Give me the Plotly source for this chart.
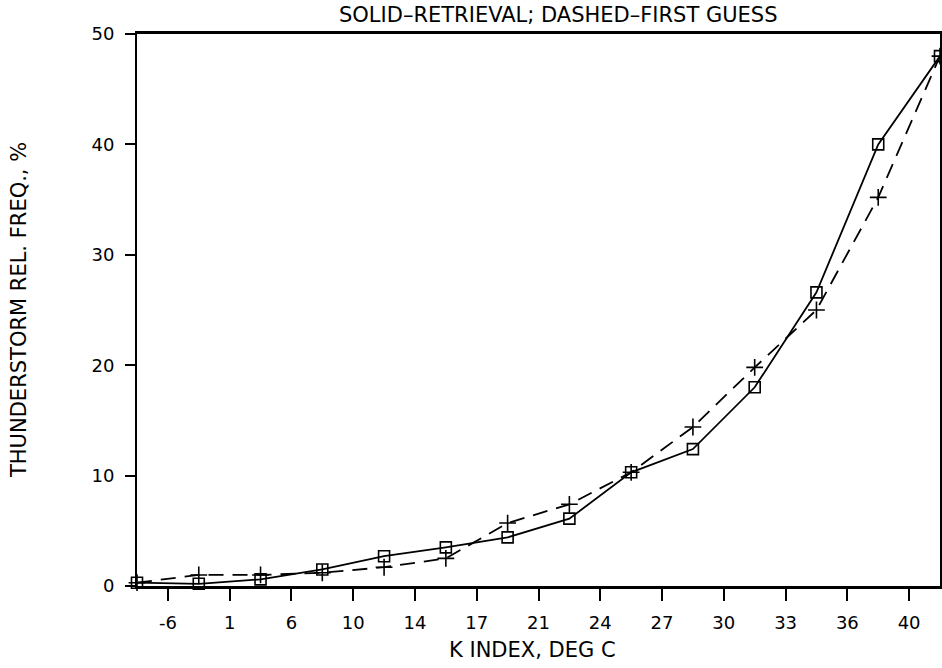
import plotly.graph_objects as go

# Data
k_labels = ["-6", "1", "6", "10", "14", "17", "21", "24", "27", "30", "33", "36", "40"]
point_pos = list(range(14))
retrieval = [0.3, 0.2, 0.6, 1.5, 2.7, 3.5, 4.4, 6.1, 10.3, 12.4, 18.0, 26.6, 40.0, 48.0]
first_guess = [0.3, 1.0, 1.0, 1.2, 1.7, 2.5, 5.7, 7.4, 10.3, 14.4, 19.8, 25.0, 35.2, 48.0]
tick_pos = [i + 0.5 for i in range(13)]
y_ticks = [0, 10, 20, 30, 40, 50]

FONT = "DejaVu Sans"
W, H = 942, 668
L, T = 137, 34
R = W - 940
B = H - 586
PW, PH = W - L - R, H - T - B


def px(xp):
    return (xp - L) / PW


def py(yp):
    return (H - B - yp) / PH


fig = go.Figure()
fig.add_trace(go.Scatter(
    x=point_pos, y=first_guess, mode="lines+markers",
    line=dict(color="black", width=1.8, dash="15px,9px"),
    marker=dict(symbol="cross-thin", size=12, line=dict(color="black", width=1.6)),
    cliponaxis=False, showlegend=False, name="First guess"))
fig.add_trace(go.Scatter(
    x=point_pos, y=retrieval, mode="lines+markers",
    line=dict(color="black", width=1.8),
    marker=dict(symbol="square-open", size=11, color="black", line=dict(color="black", width=1.6)),
    cliponaxis=False, showlegend=False, name="Retrieval"))

fig.update_layout(
    width=W, height=H,
    margin=dict(l=L, r=R, t=T, b=B, autoexpand=False),
    paper_bgcolor="white", plot_bgcolor="white",
    font=dict(family=FONT, color="black", size=18),
    xaxis=dict(range=[0, 13], tickvals=tick_pos, ticktext=k_labels,
               ticks="outside", ticklen=12, tickwidth=1.5, tickcolor="black",
               ticklabelstandoff=6,
               showline=True, linecolor="black", linewidth=3, mirror=True,
               showgrid=False, zeroline=False, automargin=False,
               tickfont=dict(size=18, family=FONT)),
    yaxis=dict(range=[0, 50], tickvals=y_ticks,
               ticks="outside", ticklen=10, tickwidth=1.5, tickcolor="black",
               ticklabelstandoff=7,
               showline=True, linecolor="black", linewidth=1.8, mirror=True,
               showgrid=False, zeroline=False, automargin=False,
               tickfont=dict(size=18, family=FONT)),
    annotations=[
        dict(text="SOLID\u2013RETRIEVAL; DASHED\u2013FIRST GUESS", xref="paper", yref="paper",
             x=px(558), y=py(15), xanchor="center", yanchor="middle",
             showarrow=False, font=dict(size=21, family=FONT, color="black")),
        dict(text="K INDEX, DEG C", xref="paper", yref="paper",
             x=px(532), y=py(650), xanchor="center", yanchor="middle",
             showarrow=False, font=dict(size=21, family=FONT, color="black")),
        dict(text="THUNDERSTORM REL. FREQ., %", xref="paper", yref="paper",
             x=px(19), y=py(310), xanchor="center", yanchor="middle",
             textangle=-90, showarrow=False, font=dict(size=21, family=FONT, color="black")),
    ],
)

fig.write_html("out.html", config={"displayModeBar": False},
               post_script="document.body.style.margin='0';")
